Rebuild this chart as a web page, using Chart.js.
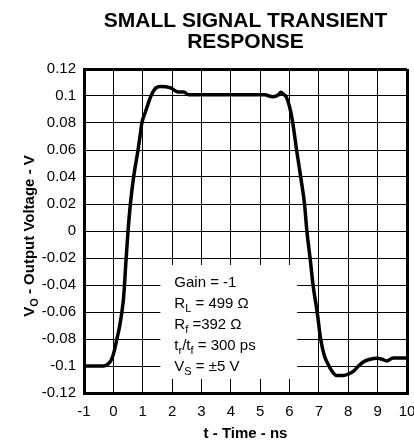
<!DOCTYPE html>
<html>
<head>
<meta charset="utf-8">
<script src="https://cdn.jsdelivr.net/npm/chart.js@4.4.1/dist/chart.umd.min.js"></script>
<style>
  html, body { margin: 0; padding: 0; background: #fff; overflow: hidden; }
  canvas { display: block; }
</style>
</head>
<body>
<canvas id="chart" width="414" height="443"></canvas>
<script>
// values
const timeNs = [-1, -0.6, -0.33, -0.15, -0.04, 0.04, 0.12, 0.21, 0.29, 0.35, 0.43, 0.5, 0.58, 0.69, 0.84, 0.92, 0.97, 1.09, 1.28, 1.45, 1.6, 1.95, 2.2, 2.4, 2.55, 3, 4, 5, 5.17, 5.3, 5.44, 5.6, 5.71, 5.8, 5.87, 6.0, 6.11, 6.24, 6.38, 6.51, 6.59, 6.7, 6.8, 6.94, 7.06, 7.18, 7.32, 7.45, 7.6, 7.83, 8.0, 8.17, 8.35, 8.51, 8.75, 8.97, 9.15, 9.31, 9.53, 10];
const outputV = [-0.1, -0.1, -0.1, -0.098, -0.094, -0.088, -0.08, -0.071, -0.06, -0.049, -0.022, 0, 0.02, 0.04, 0.06, 0.072, 0.08, 0.088, 0.1, 0.106, 0.107, 0.106, 0.103, 0.103, 0.101, 0.101, 0.101, 0.101, 0.101, 0.1, 0.0995, 0.1005, 0.1027, 0.101, 0.1, 0.092, 0.08, 0.06, 0.04, 0.02, 0, -0.02, -0.04, -0.06, -0.08, -0.092, -0.099, -0.104, -0.107, -0.107, -0.106, -0.104, -0.1, -0.097, -0.095, -0.0943, -0.095, -0.0963, -0.094, -0.094];

const xTicks = [-1, 0, 1, 2, 3, 4, 5, 6, 7, 8, 9, 10];
const yTicks = [-0.12, -0.1, -0.08, -0.06, -0.04, -0.02, 0, 0.02, 0.04, 0.06, 0.08, 0.1, 0.12];
const yTickLabels = ["-0.12", "-0.1", "-0.08", "-0.06", "-0.04", "-0.02", "0", "0.02", "0.04", "0.06", "0.08", "0.1", "0.12"];

const titleLines = ["SMALL SIGNAL TRANSIENT", "RESPONSE"];
const xTitle = "t - Time - ns";
const yTitle = [["V", false], ["O", true], [" - Output Voltage - V", false]];
// [text, isSubscript] pieces per line
const noteLines = [
  [["Gain = -1", false]],
  [["R", false], ["L", true], [" = 499 \u03A9", false]],
  [["R", false], ["f", true], [" =392 \u03A9", false]],
  [["t", false], ["r", true], ["/t", false], ["f", true], [" = 300 ps", false]],
  [["V", false], ["S", true], [" = \u00B15 V", false]]
];

const FONT = "'Liberation Sans', Arial, sans-serif";

const drawPieces = (ctx, pieces, x, y, size, weight) => {
  let cx = x;
  pieces.forEach(([text, sub]) => {
    ctx.font = `${weight} ${sub ? Math.round(size * 0.72) : size}px ${FONT}`;
    ctx.fillText(text, cx, sub ? y + size * 0.28 : y);
    cx += ctx.measureText(text).width;
  });
};

const piecesWidth = (ctx, pieces, size, weight) => {
  let w = 0;
  pieces.forEach(([text, sub]) => {
    ctx.font = `${weight} ${sub ? Math.round(size * 0.72) : size}px ${FONT}`;
    w += ctx.measureText(text).width;
  });
  return w;
};

const notePlugin = {
  id: "notes",
  beforeDatasetsDraw(chart) {
    const { ctx, scales: { x, y } } = chart;
    const left = x.getPixelForValue(1.6);
    const right = x.getPixelForValue(6.26);
    const top = y.getPixelForValue(-0.0252);
    const bottom = y.getPixelForValue(-0.1096);
    ctx.save();
    ctx.fillStyle = "#fff";
    ctx.fillRect(left, top, right - left, bottom - top);
    ctx.fillStyle = "#000";
    ctx.textBaseline = "alphabetic";
    ctx.textAlign = "left";
    noteLines.forEach((line, i) => {
      drawPieces(ctx, line, left + 14, top + 22 + i * 21, 15, "normal");
    });
    ctx.restore();
  },
  afterDraw(chart) {
    const { ctx, chartArea } = chart;
    const cx = (chartArea.left + chartArea.right) / 2;
    ctx.save();
    ctx.fillStyle = "#000";
    ctx.textAlign = "center";
    ctx.textBaseline = "alphabetic";
    ctx.font = `bold 21px ${FONT}`;
    titleLines.forEach((t, i) => ctx.fillText(t, cx, 27 + i * 21));

    ctx.font = `bold 15px ${FONT}`;
    ctx.fillText(xTitle, cx, 438);

    // rotated y title with subscript
    ctx.translate(28, 236);
    ctx.rotate(-Math.PI / 2);
    ctx.textAlign = "left";
    const w = piecesWidth(ctx, yTitle, 15, "bold");
    drawPieces(ctx, yTitle, -w / 2, 5.5, 15, "bold");
    ctx.restore();
  }
};

const edgeWidth = (c) => (c.index === 0 || c.index === c.scale.ticks.length - 1 ? 3 : 1);

new Chart(document.getElementById("chart"), {
  type: "line",
  data: {
    datasets: [{
      data: timeNs.map((t, i) => ({ x: t, y: outputV[i] })),
      borderColor: "#000",
      borderWidth: 3.5,
      pointRadius: 0,
      cubicInterpolationMode: "monotone",
      fill: false
    }]
  },
  options: {
    responsive: false,
    animation: false,
    layout: { padding: { top: 69, right: 7, left: 0, bottom: 0 } },
    plugins: {
      legend: { display: false },
      title: { display: false },
      tooltip: { enabled: false }
    },
    scales: {
      x: {
        type: "linear",
        min: -1,
        max: 10,
        afterBuildTicks: (s) => { s.ticks = xTicks.map((v) => ({ value: v })); },
        afterFit: (s) => { s.height = 50; s.paddingLeft = 0; s.paddingRight = 0; },
        grid: { color: "#000", lineWidth: edgeWidth, drawTicks: false },
        border: { color: "#000", width: 3 },
        ticks: {
          color: "#000",
          padding: 10,
          maxRotation: 0,
          autoSkip: false,
          font: { family: FONT, size: 15 }
        }
      },
      y: {
        type: "linear",
        min: -0.12,
        max: 0.12,
        afterBuildTicks: (s) => { s.ticks = yTicks.map((v) => ({ value: v })); },
        afterFit: (s) => { s.width = 84; s.paddingTop = 0; s.paddingBottom = 0; },
        grid: { color: "#000", lineWidth: edgeWidth, drawTicks: false },
        border: { color: "#000", width: 3 },
        ticks: {
          color: "#000",
          padding: 8,
          autoSkip: false,
          font: { family: FONT, size: 15 },
          callback: (v, i) => yTickLabels[i]
        }
      }
    }
  },
  plugins: [notePlugin]
});
</script>
</body>
</html>
